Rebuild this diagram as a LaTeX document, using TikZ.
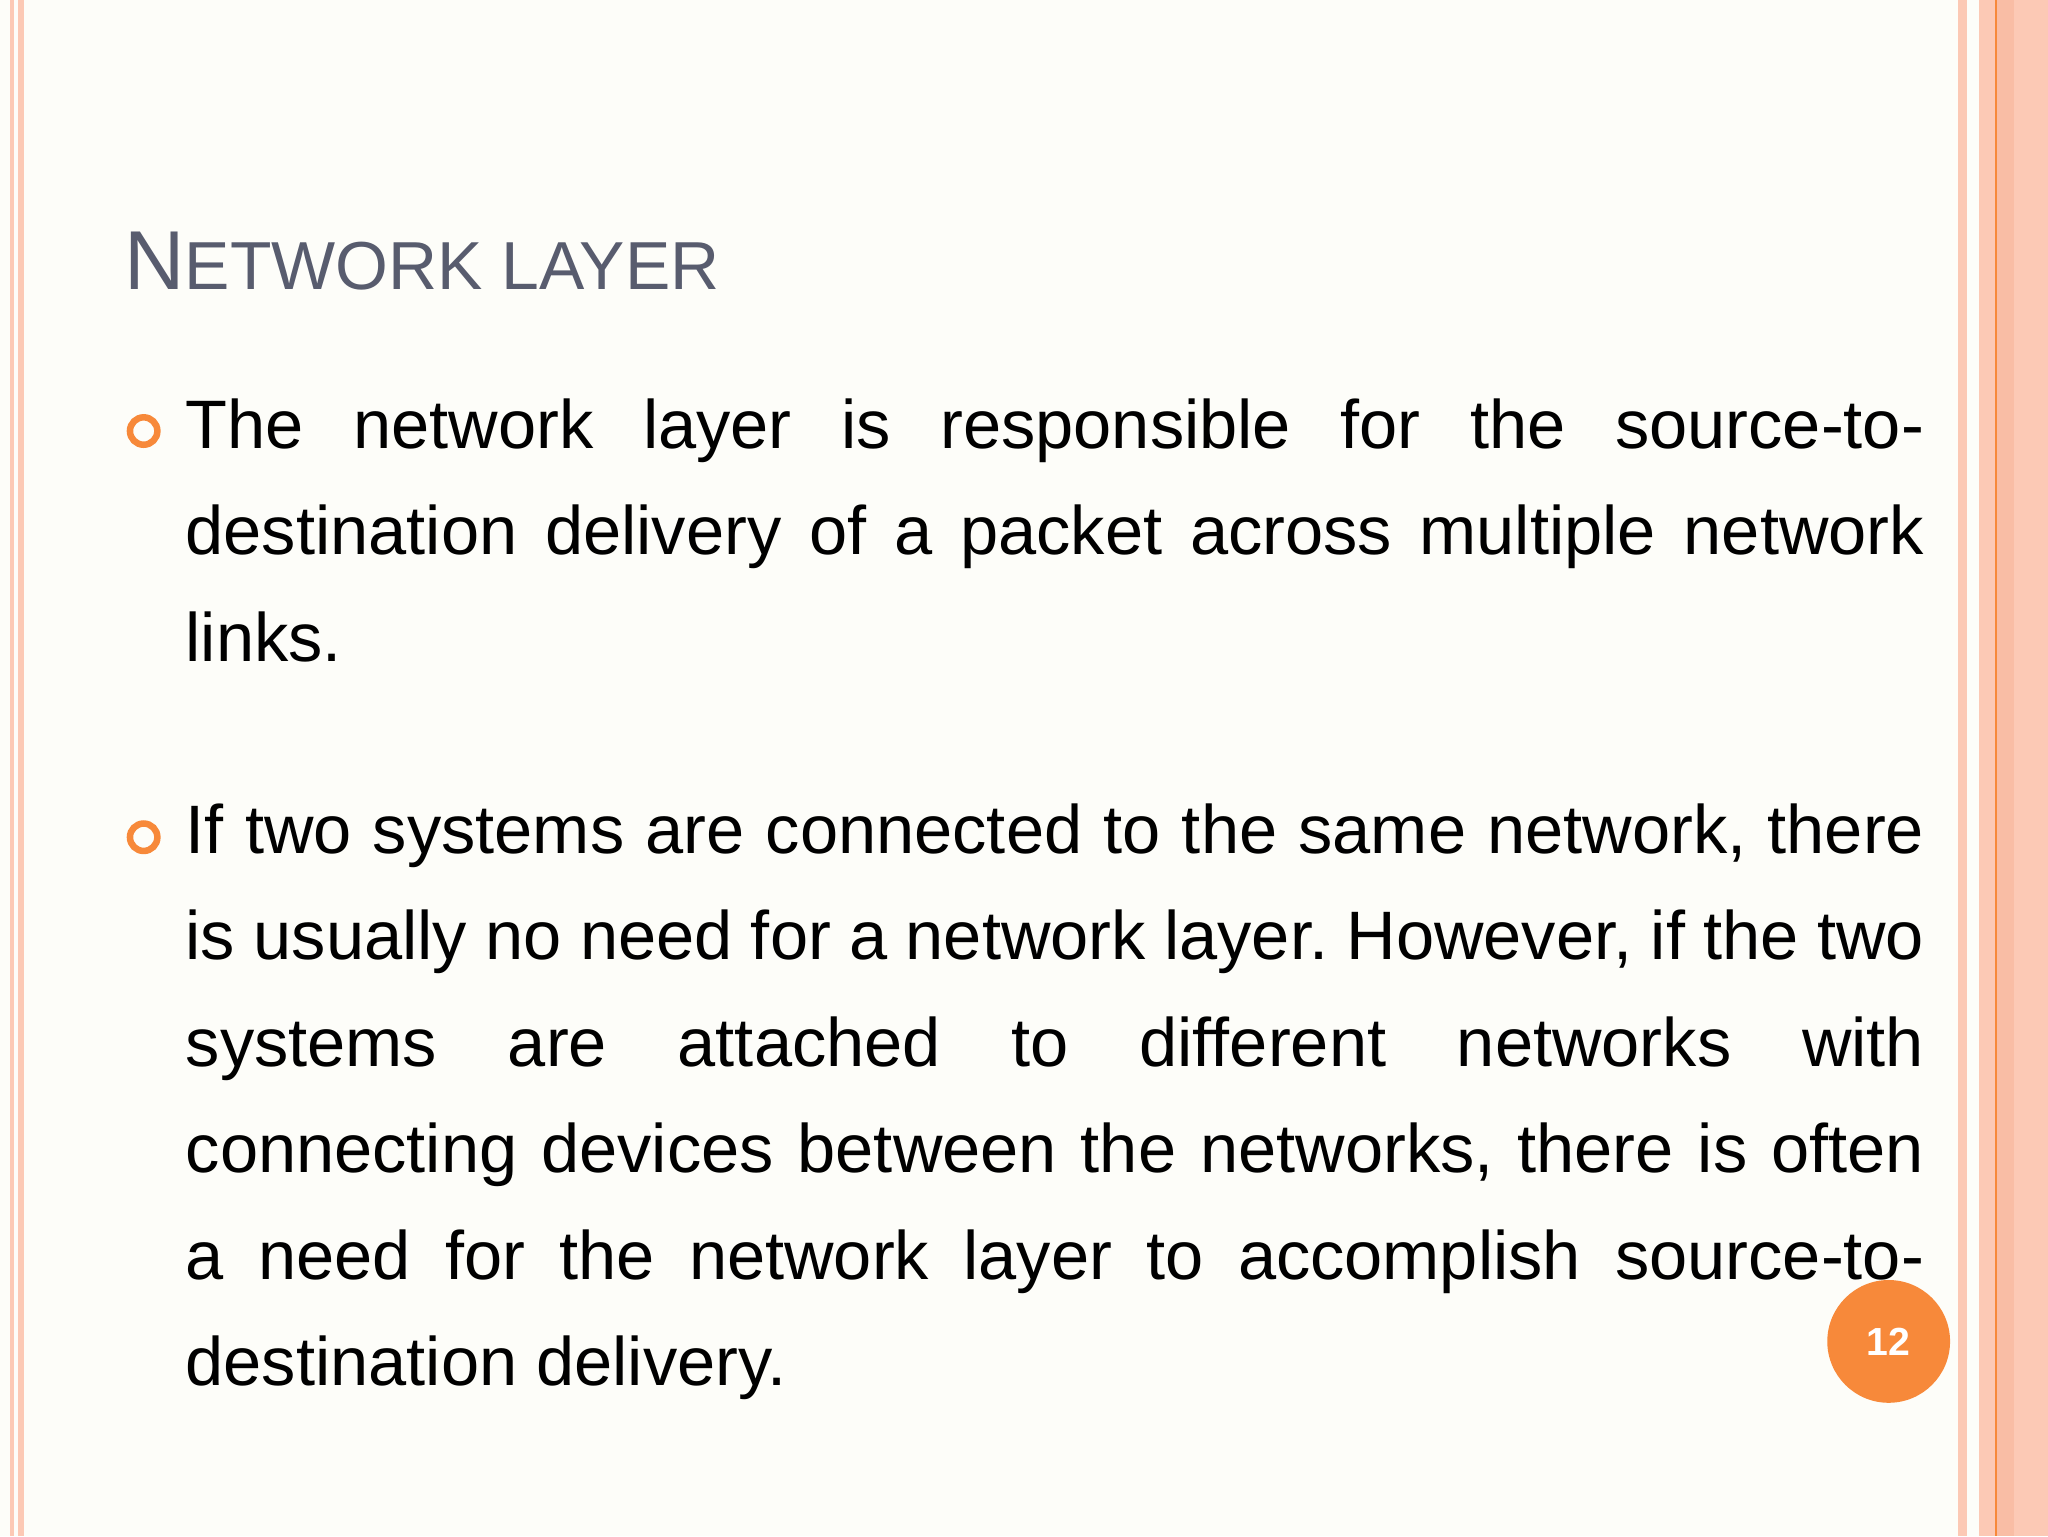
\documentclass[tikz,border=0pt]{standalone}
\usepackage{fontspec}
\setmainfont{Liberation Sans}
\definecolor{bg}{HTML}{FDFDF9}
\definecolor{salmon}{HTML}{FCC9B5}
\definecolor{salmond}{HTML}{F9BDA5}
\definecolor{orng}{HTML}{F7893A}
\definecolor{ttl}{HTML}{585C6E}
\newcommand{\parset}{\frenchspacing\hyphenpenalty=10000\relax\tolerance=10000\relax}
\begin{document}
\begin{tikzpicture}[x=1pt,y=-1pt,
  bullet/.style={circle,draw=orng,line width=5pt,minimum size=21pt,inner sep=0pt},
  para/.style={anchor=north west,inner sep=0pt,text width=1331pt,align=justify,font=\fontsize{52.5}{81.5}\selectfont}]
\useasboundingbox (0,0) rectangle (1568,1176);
\fill[bg] (0,0) rectangle (1568,1176);
% left border
\fill[salmon] (8,0) rectangle (11,1176);
\fill[salmon] (14,0) rectangle (18,1176);
% right border
\fill[salmon] (1499,0) rectangle (1506,1176);
\fill[salmon] (1515,0) rectangle (1568,1176);
\fill[salmond] (1528,0) rectangle (1542,1176);
\draw[orng,line width=1.2pt] (1528,0) -- (1528,1176);
% title
\node[anchor=base west,inner sep=0pt,text=ttl,font=\fontsize{64}{70}\selectfont] (title) at (95,222) {N{\fontsize{52}{60}\selectfont ETWORK LAYER}};
% bullets
\node[bullet] (b1) at (110,330) {};
\node[bullet] (b2) at (110,641) {};
% paragraphs
\node[para] (p1) at (142,305) {\parset The network layer is responsible for the source-to-\linebreak destination delivery of a packet across multiple network\linebreak links.};
\node[para] (p2) at (142,615) {\parset If two systems are connected to the same network, there\linebreak is usually no need for a network layer. However, if the two\linebreak systems are attached to different networks with\linebreak connecting devices between the networks, there is often\linebreak a need for the network layer to accomplish source-to-\linebreak destination delivery.};
% page number
\node[circle,fill=orng,minimum size=94pt,inner sep=0pt,text=white,font=\fontsize{30}{34}\selectfont\bfseries] (pg) at (1446,1027) {12};
\end{tikzpicture}
\end{document}
